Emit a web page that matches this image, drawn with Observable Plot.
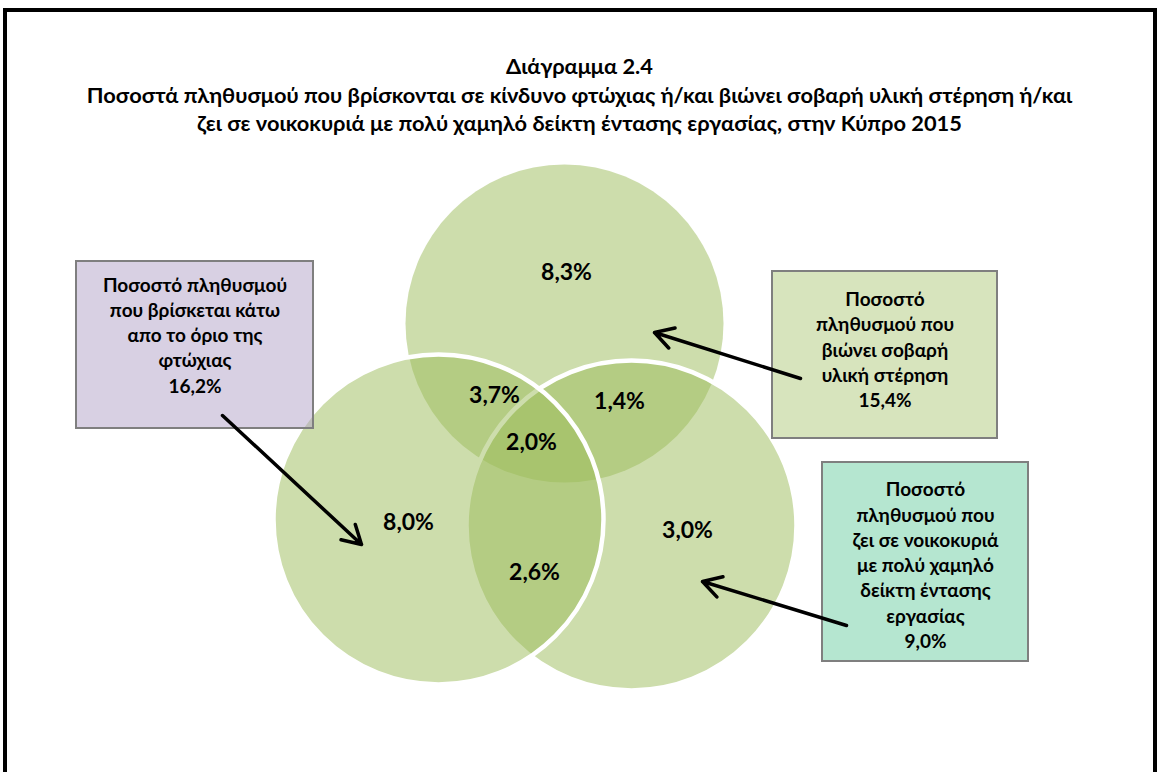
<!DOCTYPE html>
<html>
<head>
<meta charset="utf-8">
<script src="https://cdn.jsdelivr.net/npm/d3@7"></script>
<script src="https://cdn.jsdelivr.net/npm/@observablehq/plot@0.6"></script>
<style>
  html, body { margin: 0; padding: 0; background: #fff; }
  body { width: 1159px; height: 772px; position: relative; overflow: hidden; font-family: Lato, "Open Sans", sans-serif; }
  #title { position: absolute; left: 0; top: 52px; width: 1159px; text-align: center; font-weight: bold; font-size: 21.8px; line-height: 28.5px; color: #000; }
  #chart { position: absolute; left: 0; top: 160px; }
  #frame { position: absolute; left: 3px; top: 8px; width: 1154px; height: 820px; border: 4px solid #000; border-bottom: none; box-sizing: border-box; pointer-events: none; }
</style>
</head>
<body>
<div id="title">Διάγραμμα 2.4<br>Ποσοστά πληθυσμού που βρίσκονται σε κίνδυνο φτώχιας ή/και βιώνει σοβαρή υλική στέρηση ή/και<br>ζει σε νοικοκυριά με πολύ χαμηλό δείκτη έντασης εργασίας, στην Κύπρο 2015</div>
<div id="chart"></div>
<div id="frame"></div>
<script>
// ---- data ----
const sets = ["Κίνδυνος φτώχιας", "Σοβαρή υλική στέρηση", "Χαμηλή ένταση εργασίας"];
const setTotals = [16.2, 15.4, 9.0];
const setDescriptions = [
  "Ποσοστό πληθυσμού\nπου βρίσκεται κάτω\nαπο το όριο της\nφτώχιας",
  "Ποσοστό\nπληθυσμού που\nβιώνει σοβαρή\nυλική στέρηση",
  "Ποσοστό\nπληθυσμού που\nζει σε νοικοκυριά\nμε πολύ χαμηλό\nδείκτη έντασης\nεργασίας"
];
const regions = ["A", "B", "C", "AB", "AC", "BC", "ABC"];
const regionValues = [8.0, 8.3, 3.0, 3.7, 2.6, 1.4, 2.0];

const fmt = v => v.toFixed(1).replace(".", ",") + "%";

// ---- layout (chart units = pixels of the page) ----
// circles drawn in this order: top (B), right (C), left (A)
const circleLayout = [
  {set: 1, cx: 564, cy: 323, r: 159, outline: false},
  {set: 2, cx: 631, cy: 525, r: 165, outline: true},
  {set: 0, cx: 438, cy: 519, r: 165, outline: true}
];
const regionLayout = {
  A: [408, 522], B: [566, 272], C: [687, 530],
  AB: [494, 395], AC: [534, 572], BC: [619, 401], ABC: [531, 442]
};
const boxLayout = [
  {set: 0, x1: 76, x2: 313, y1: 261, y2: 428, ty: 333.5, fill: "#b2a1c7", opacity: 0.5},
  {set: 1, x1: 772, x2: 997, y1: 271, y2: 438, ty: 348, fill: "#d7e4bd", opacity: 1},
  {set: 2, x1: 822, x2: 1028, y1: 462, y2: 661, ty: 563.5, fill: "#b5e6d0", opacity: 1}
];
const arrowLayout = [
  {set: 0, x1: 222, y1: 415, x2: 361, y2: 544},
  {set: 1, x1: 800, y1: 378, x2: 654, y2: 332},
  {set: 2, x1: 846, y1: 625, x2: 702, y2: 581}
];

// ---- derived tables ----
const circles = circleLayout.map(d => ({...d, name: sets[d.set]}));
const regionTable = regions.map((k, i) => ({key: k, value: regionValues[i], x: regionLayout[k][0], y: regionLayout[k][1]}));
const boxes = boxLayout.map(d => ({...d, text: setDescriptions[d.set] + "\n" + fmt(setTotals[d.set]), tx: (d.x1 + d.x2) / 2}));

const W = 1159, H = 612, top0 = 160;
const fontFam = 'Lato, "Open Sans", sans-serif';

const chart = Plot.plot({
  width: W,
  height: H,
  margin: 0,
  x: {domain: [0, W], range: [0, W], axis: null},
  y: {domain: [top0, top0 + H], range: [0, H], axis: null},
  r: {type: "identity"},
  style: {background: "transparent", fontFamily: fontFam, overflow: "visible"},
  marks: [
    // circles in fixed order
    ...circles.map(c => Plot.dot([c], {
      x: "cx", y: "cy", r: "r",
      fill: "#9bbb59", fillOpacity: 0.5,
      stroke: c.outline ? "white" : "none", strokeWidth: 4.5,
      sort: null
    })),
    Plot.text(regionTable, {
      x: "x", y: "y", text: d => fmt(d.value),
      fontSize: 23, fontWeight: "bold", fill: "#000"
    }),
    Plot.rect(boxes, {
      x1: "x1", x2: "x2", y1: "y1", y2: "y2",
      fill: "fill", fillOpacity: "opacity",
      stroke: "#7f7f7f", strokeWidth: 2
    }),
    Plot.text(boxes, {
      x: "tx", y: "ty", text: "text",
      fontSize: 19, fontWeight: "bold", fill: "#000", lineHeight: 25.25 / 19
    }),
    Plot.arrow(arrowLayout, {
      x1: "x1", y1: "y1", x2: "x2", y2: "y2",
      stroke: "#000", strokeWidth: 3.5, headLength: 9, headAngle: 60
    })
  ]
});
document.getElementById("chart").appendChild(chart);
</script>
</body>
</html>
